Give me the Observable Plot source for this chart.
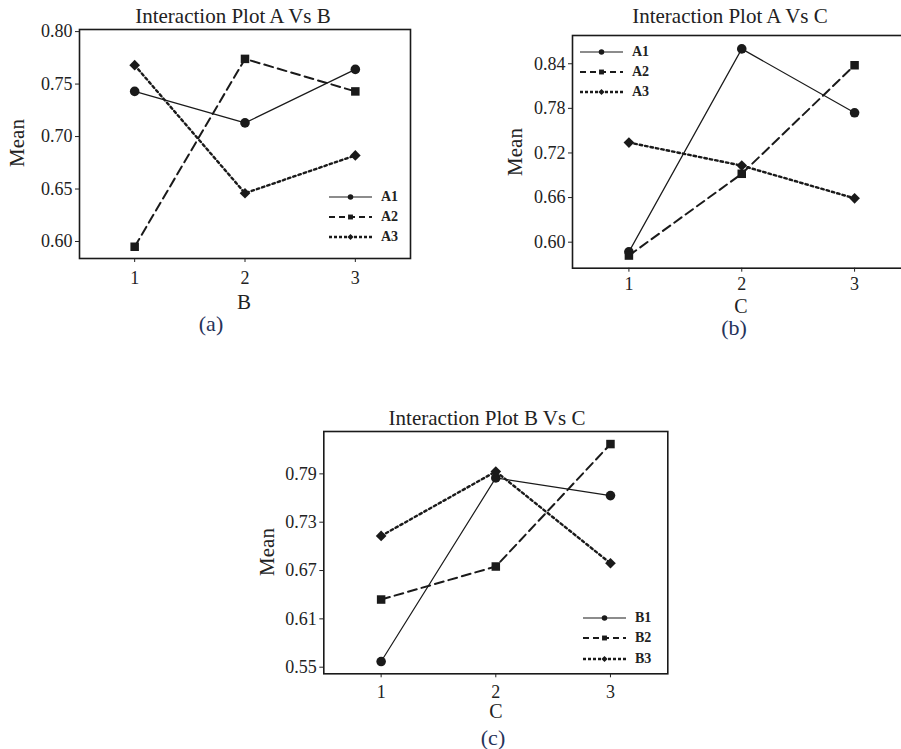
<!DOCTYPE html>
<html><head><meta charset="utf-8">
<script src="https://cdn.jsdelivr.net/npm/d3@7"></script>
<script src="https://cdn.jsdelivr.net/npm/@observablehq/plot@0.6"></script>
<style>
body{margin:0;background:#fff;}
#root{position:relative;width:901px;height:749px;overflow:hidden;background:#fff;}
.panel{position:absolute;overflow:hidden;}
.panel svg{max-width:none !important;display:block;}
.panel svg text{font-family:"Liberation Serif","Times New Roman",serif !important;font-size:18px !important;fill:#222;}
.txt{position:absolute;white-space:nowrap;color:#222;font-family:"Liberation Serif","Times New Roman",serif;transform:translate(-50%,-50%);line-height:1;}
.rot{transform:translate(-50%,-50%) rotate(-90deg);}
.cap{color:#26335a;}
.leg{position:absolute;font-family:"Liberation Serif","Times New Roman",serif;font-weight:bold;font-size:14px;color:#222;}
.leg .row{position:absolute;left:0;display:flex;align-items:center;white-space:nowrap;transform:translateY(-50%);}
.leg svg{display:block;margin-right:9px;}
</style>
</head><body><div id="root"></div>
<script>
// Levels and series names
const levels = [1, 2, 3];
const seriesA = ["A1", "A2", "A3"];
const seriesB = ["B1", "B2", "B3"];

// (a) Interaction Plot A Vs B  (x = B level)
const ab_A1 = [0.743, 0.713, 0.764];
const ab_A2 = [0.595, 0.774, 0.743];
const ab_A3 = [0.768, 0.646, 0.682];
const ticksAB = [0.60, 0.65, 0.70, 0.75, 0.80];

// (b) Interaction Plot A Vs C  (x = C level)
const ac_A1 = [0.587, 0.860, 0.774];
const ac_A2 = [0.582, 0.692, 0.838];
const ac_A3 = [0.734, 0.703, 0.659];
const ticksAC = [0.60, 0.66, 0.72, 0.78, 0.84];

// (c) Interaction Plot B Vs C  (x = C level)
const bc_B1 = [0.557, 0.785, 0.763];
const bc_B2 = [0.634, 0.675, 0.827];
const bc_B3 = [0.713, 0.793, 0.679];
const ticksBC = [0.55, 0.61, 0.67, 0.73, 0.79];

const symbols = ["circle", "square", "diamond2"];
const dashes = [null, "9,5", "2.5,3"];
const widths = [1.2, 2, 2.4];
const ink = "#1a1a1a";

function buildRows(names, arrays) {
  const rows = [];
  names.forEach((s, i) => arrays[i].forEach((v, j) => rows.push({s, x: levels[j], y: v})));
  return rows;
}

const root = document.getElementById("root");

function addText(str, x, y, size, cls = "", weight = "normal") {
  const d = document.createElement("div");
  d.className = "txt " + cls;
  d.style.left = x + "px"; d.style.top = y + "px";
  d.style.fontSize = size + "px"; d.style.fontWeight = weight;
  d.textContent = str;
  root.appendChild(d);
}

function addLegend(names, x, ys) {
  const leg = document.createElement("div");
  leg.className = "leg";
  leg.style.left = x + "px"; leg.style.top = "0px";
  names.forEach((n, i) => {
    const row = document.createElement("div");
    row.className = "row";
    row.style.top = ys[i] + "px";
    const ns = "http://www.w3.org/2000/svg";
    const svg = document.createElementNS(ns, "svg");
    svg.setAttribute("width", 43); svg.setAttribute("height", 10);
    const ln = document.createElementNS(ns, "line");
    ln.setAttribute("x1", 0); ln.setAttribute("x2", 43); ln.setAttribute("y1", 5); ln.setAttribute("y2", 5);
    ln.setAttribute("stroke", ink); ln.setAttribute("stroke-width", widths[i]);
    if (dashes[i]) ln.setAttribute("stroke-dasharray", i === 1 ? "6,4" : "3,2");
    svg.appendChild(ln);
    const p = document.createElementNS(ns, "path");
    const sym = [d3.symbolCircle, d3.symbolSquare, d3.symbolDiamond2][i];
    p.setAttribute("d", d3.symbol(sym, 24)());
    p.setAttribute("transform", "translate(21.5,5)");
    p.setAttribute("fill", ink);
    svg.appendChild(p);
    row.appendChild(svg);
    const t = document.createElement("span");
    t.textContent = n;
    row.appendChild(t);
    leg.appendChild(row);
  });
  root.appendChild(leg);
}

function makePanel(cfg) {
  const rows = buildRows(cfg.names, cfg.arrays);
  const marks = [
    Plot.frame({stroke: ink, strokeWidth: 1.6}),
    Plot.axisX({ticks: levels, tickFormat: d => String(d), tickSize: 4, tickPadding: cfg.xpad, label: null}),
    Plot.axisY({ticks: cfg.ticks, tickFormat: d3.format(".2f"), tickSize: 4, tickPadding: 3, label: null})
  ];
  cfg.names.forEach((n, i) => {
    marks.push(Plot.line(rows.filter(r => r.s === n), {
      x: "x", y: "y", stroke: ink, strokeWidth: widths[i],
      strokeDasharray: dashes[i] || undefined
    }));
  });
  marks.push(Plot.dot(rows, {x: "x", y: "y", symbol: "s", fill: ink, stroke: "none", r: 4.8}));
  const chart = Plot.plot({
    width: cfg.width, height: cfg.height,
    marginLeft: cfg.ml, marginRight: cfg.mr, marginTop: cfg.mt, marginBottom: cfg.mb,
    x: {domain: [0.5, 3.5], label: null},
    y: {domain: cfg.ydomain, label: null},
    symbol: {domain: cfg.names, range: symbols},
    style: {fontFamily: '"Liberation Serif", serif', fontSize: "18px", color: "#222", background: "transparent", overflow: "visible", maxWidth: "none"},
    marks
  });
  chart.style.maxWidth = "none";
  const wrap = document.createElement("div");
  wrap.className = "panel";
  wrap.style.left = cfg.left + "px"; wrap.style.top = cfg.top + "px";
  wrap.style.width = cfg.clipW + "px"; wrap.style.height = cfg.height + "px";
  wrap.appendChild(chart);
  root.appendChild(wrap);
}

// Panel (a)
makePanel({names: seriesA, arrays: [ab_A1, ab_A2, ab_A3], ticks: ticksAB,
  ydomain: [0.5838, 0.802], left: 0, top: 0, width: 430, clipW: 430, height: 320,
  ml: 79, mr: 20, mt: 29, mb: 62, xpad: 9});
addText("Interaction Plot A Vs B", 233, 16, 21);
addText("Mean", 17, 143, 21, "rot");
addText("B", 244, 302, 21);
addText("(a)", 211, 324, 22, "cap");
addLegend(seriesA, 329, [197, 217, 237]);

// Panel (b)
makePanel({names: seriesA, arrays: [ac_A1, ac_A2, ac_A3], ticks: ticksAC,
  ydomain: [0.565, 0.878], left: 450, top: 0, width: 480, clipW: 451, height: 320,
  ml: 122, mr: 19.5, mt: 35, mb: 52.3, xpad: 5});
addText("Interaction Plot A Vs C", 730, 16, 21);
addText("Mean", 515, 152, 21, "rot");
addText("C", 741, 305.5, 20);
addText("(b)", 734, 328, 22, "cap");
addLegend(seriesA, 580, [51.7, 71.7, 91.7]);

// Panel (c)
makePanel({names: seriesB, arrays: [bc_B1, bc_B2, bc_B3], ticks: ticksBC,
  ydomain: [0.5418, 0.8426], left: 250, top: 370, width: 440, clipW: 440, height: 379,
  ml: 73.3, mr: 22.7, mt: 61, mb: 75.7, xpad: 7});
addText("Interaction Plot B Vs C", 487, 418, 21);
addText("Mean", 267, 552, 21, "rot");
addText("C", 496, 711, 20);
addText("(c)", 493, 738, 22, "cap");
addLegend(seriesB, 583, [618.3, 638.3, 659.3]);
</script>
</body></html>
